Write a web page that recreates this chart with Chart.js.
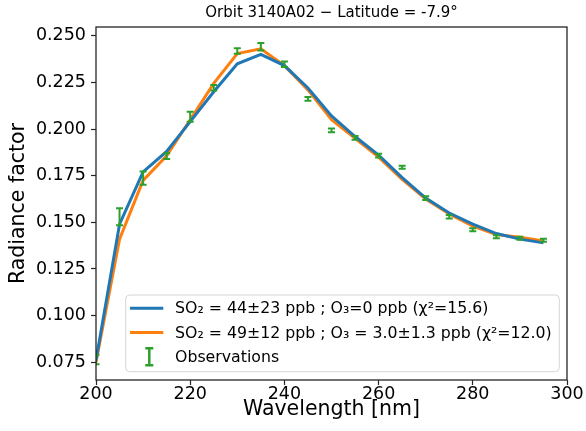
<!DOCTYPE html>
<html>
<head>
<meta charset="utf-8">
<script src="https://cdn.jsdelivr.net/npm/chart.js@4/dist/chart.umd.min.js"></script>
<style>
html, body { margin: 0; padding: 0; background: #fff; }
</style>
</head>
<body>
<canvas id="grafica" width="586" height="431"></canvas>
<script>
const wavelengths = [200, 205, 210, 215, 220, 225, 230, 235, 240, 245, 250, 255, 260, 265, 270, 275, 280, 285, 290, 295];
const modelSO2 = [0.076, 0.149, 0.177, 0.188, 0.204, 0.220, 0.235, 0.240, 0.234, 0.222, 0.207, 0.196, 0.186, 0.174, 0.163, 0.155, 0.149, 0.144, 0.141, 0.139];
const modelSO2O3 = [0.075, 0.141, 0.1725, 0.1857, 0.205, 0.2245, 0.2405, 0.243, 0.234, 0.221, 0.205, 0.195, 0.185, 0.173, 0.1625, 0.1545, 0.148, 0.1435, 0.142, 0.140];
const observed = [0.0765, 0.153, 0.1737, 0.1855, 0.2066, 0.2221, 0.2418, 0.2441, 0.2347, 0.2162, 0.1993, 0.1953, 0.1857, 0.1795, 0.1630, 0.1530, 0.1460, 0.1423, 0.1415, 0.1404];
const observedErr = [0.0025, 0.0045, 0.0035, 0.0015, 0.0027, 0.0015, 0.0015, 0.002, 0.0015, 0.001, 0.001, 0.001, 0.001, 0.0008, 0.001, 0.001, 0.0008, 0.0008, 0.0008, 0.0008];
const xTicks = [200, 220, 240, 260, 280, 300];
const yTicks = [0.075, 0.100, 0.125, 0.150, 0.175, 0.200, 0.225, 0.250];

const labelSO2 = "SO\u2082 = 44\u00b123 ppb ; O\u2083=0 ppb (\u03c7\u00b2=15.6)";
const labelSO2O3 = "SO\u2082 = 49\u00b112 ppb ; O\u2083 = 3.0\u00b11.3 ppb (\u03c7\u00b2=12.0)";
const labelObs = "Observations";
const titulo = "Orbit 3140A02 \u2212 Latitude = -7.9\u00b0";

const FONT = "'DejaVu Sans', sans-serif";
const AZUL = '#1f77b4', NARANJA = '#ff7f0e', VERDE = '#2ca02c';

function barraError(ctx, x, yTop, yBot, cap) {
    ctx.beginPath();
    ctx.moveTo(x, yTop); ctx.lineTo(x, yBot);
    ctx.moveTo(x - cap, yTop); ctx.lineTo(x + cap, yTop);
    ctx.moveTo(x - cap, yBot); ctx.lineTo(x + cap, yBot);
    ctx.stroke();
}

const errorBars = {
    id: 'errorBars',
    afterDatasetsDraw(chart) {
        const { ctx, chartArea } = chart;
        const meta = chart.getDatasetMeta(2);
        const y = chart.scales.y;
        ctx.save();
        ctx.beginPath();
        ctx.rect(chartArea.left, chartArea.top, chartArea.right - chartArea.left, chartArea.bottom - chartArea.top);
        ctx.clip();
        ctx.strokeStyle = VERDE;
        ctx.lineWidth = 2;
        meta.data.forEach((pt, i) => {
            barraError(ctx, pt.x,
                y.getPixelForValue(observed[i] + observedErr[i]),
                y.getPixelForValue(observed[i] - observedErr[i]), 3.5);
        });
        ctx.restore();
    }
};

const marco = {
    id: 'marco',
    afterDraw(chart) {
        const { ctx, chartArea } = chart;
        ctx.save();
        ctx.strokeStyle = '#262626';
        ctx.lineWidth = 1.3;
        ctx.strokeRect(chartArea.left, chartArea.top, chartArea.right - chartArea.left, chartArea.bottom - chartArea.top);
        ctx.fillStyle = '#000';
        ctx.font = "15px " + FONT;
        ctx.textAlign = 'center';
        ctx.textBaseline = 'middle';
        ctx.fillText(titulo, (chartArea.left + chartArea.right) / 2, 13);
        ctx.restore();
    }
};

const leyenda = {
    id: 'leyenda',
    afterDraw(chart) {
        const { ctx, chartArea } = chart;
        const sets = chart.data.datasets;
        ctx.save();
        ctx.font = "15.75px " + FONT;
        const textW = Math.max(...sets.map(d => ctx.measureText(d.label).width));
        const w = 49.3 + textW + 7.6, h = 76.7;
        const right = chartArea.right - 7.7, bottom = chartArea.bottom - 8.3;
        const left = right - w, top = bottom - h;
        ctx.beginPath();
        ctx.roundRect(left, top, w, h, 4);
        ctx.fillStyle = 'rgba(255,255,255,0.8)';
        ctx.fill();
        ctx.strokeStyle = '#d6d6d6';
        ctx.lineWidth = 1;
        ctx.stroke();
        ctx.textBaseline = 'middle';
        sets.forEach((d, i) => {
            const cy = top + 13.3 + i * 24.2;
            if (i < 2) {
                ctx.strokeStyle = d.borderColor;
                ctx.lineWidth = 3;
                ctx.beginPath();
                ctx.moveTo(left + 4.3, cy);
                ctx.lineTo(left + 37.6, cy);
                ctx.stroke();
            } else {
                ctx.strokeStyle = VERDE;
                ctx.lineWidth = 2.5;
                barraError(ctx, left + 23.6, cy - 8.5, cy + 8.5, 4);
            }
            ctx.fillStyle = '#000';
            ctx.fillText(d.label, left + 49.3, cy + 1);
        });
        ctx.restore();
    }
};

const puntos = arr => wavelengths.map((x, i) => ({ x: x, y: arr[i] }));

new Chart(document.getElementById('grafica').getContext('2d'), {
    type: 'line',
    data: {
        datasets: [
            { label: labelSO2, data: puntos(modelSO2), borderColor: AZUL, borderWidth: 3, pointRadius: 0, fill: false, tension: 0 },
            { label: labelSO2O3, data: puntos(modelSO2O3), borderColor: NARANJA, borderWidth: 3, pointRadius: 0, fill: false, tension: 0 },
            { label: labelObs, data: puntos(observed), borderColor: VERDE, showLine: false, pointRadius: 0 }
        ]
    },
    options: {
        responsive: false,
        animation: false,
        devicePixelRatio: 1,
        layout: { padding: { top: 27, right: 19, left: 0, bottom: 0 } },
        plugins: { legend: { display: false }, title: { display: false }, tooltip: { enabled: false } },
        scales: {
            x: {
                type: 'linear', min: 200, max: 300,
                afterBuildTicks: s => { s.ticks = xTicks.map(v => ({ value: v })); },
                afterFit: s => { s.height = 51; },
                ticks: { font: { family: FONT, size: 17.5 }, color: '#000', padding: -1, maxRotation: 0, autoSkip: false },
                grid: { drawOnChartArea: false, tickLength: 5, color: '#262626', tickWidth: 1.2 },
                border: { display: false },
                title: { display: true, text: 'Wavelength [nm]', color: '#000', font: { family: FONT, size: 20.5 }, padding: { top: 0, bottom: 9 } }
            },
            y: {
                type: 'linear', min: 0.0655, max: 0.2547,
                afterBuildTicks: s => { s.ticks = yTicks.map(v => ({ value: v })); },
                afterFit: s => { s.width = 96; },
                ticks: { font: { family: FONT, size: 17.5 }, color: '#000', padding: 5, callback: v => v.toFixed(3) },
                grid: { drawOnChartArea: false, tickLength: 5, color: '#262626', tickWidth: 1.2 },
                border: { display: false },
                title: { display: true, text: 'Radiance factor', color: '#000', font: { family: FONT, size: 20.5 }, padding: { top: 6, bottom: 0 } }
            }
        }
    },
    plugins: [errorBars, marco, leyenda]
});
</script>
</body>
</html>
